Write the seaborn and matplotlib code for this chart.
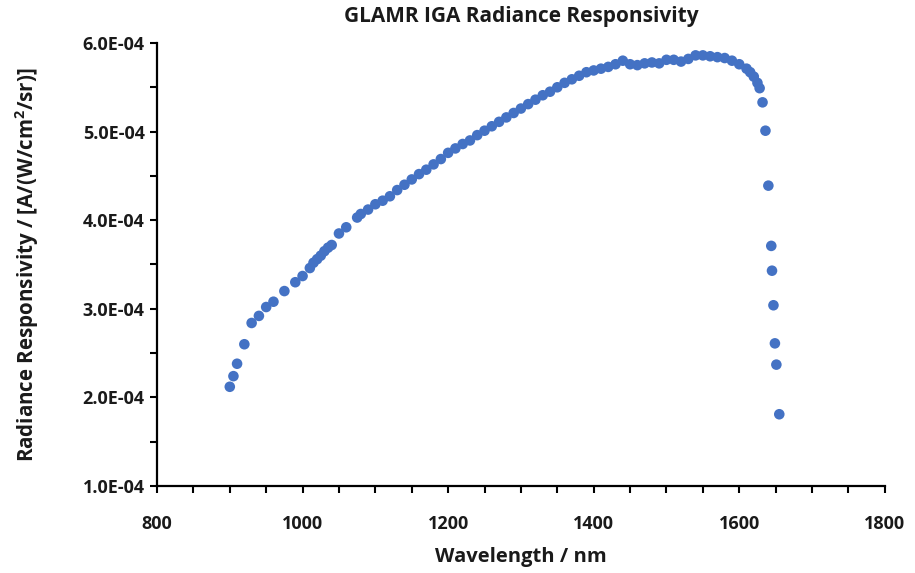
import matplotlib
matplotlib.use("Agg")
import matplotlib.pyplot as plt
import seaborn as sns
import pandas as pd
from matplotlib.ticker import MultipleLocator, FuncFormatter

# Data
wavelength_nm = [
    900, 905, 910, 920, 930, 940, 950, 960, 975, 990,
    1000, 1010, 1015, 1020, 1025, 1030, 1035, 1040, 1050, 1060,
    1075, 1080, 1090, 1100, 1110, 1120, 1130, 1140, 1150, 1160,
    1170, 1180, 1190, 1200, 1210, 1220, 1230, 1240, 1250, 1260,
    1270, 1280, 1290, 1300, 1310, 1320, 1330, 1340, 1350, 1360,
    1370, 1380, 1390, 1400, 1410, 1420, 1430, 1440, 1450, 1460,
    1470, 1480, 1490, 1500, 1510, 1520, 1530, 1540, 1550, 1560,
    1570, 1580, 1590, 1600, 1610, 1615, 1620, 1625, 1628, 1632,
    1636, 1640, 1644, 1645, 1647, 1649, 1651, 1655,
]
responsivity_e4 = [
    2.12, 2.24, 2.38, 2.60, 2.84, 2.92, 3.02, 3.08, 3.20, 3.30,
    3.37, 3.46, 3.52, 3.56, 3.60, 3.65, 3.69, 3.72, 3.85, 3.92,
    4.03, 4.07, 4.12, 4.18, 4.22, 4.27, 4.34, 4.40, 4.46, 4.52,
    4.57, 4.63, 4.69, 4.76, 4.81, 4.86, 4.90, 4.96, 5.01, 5.06,
    5.11, 5.16, 5.21, 5.26, 5.31, 5.36, 5.41, 5.45, 5.50, 5.55,
    5.59, 5.63, 5.67, 5.69, 5.71, 5.73, 5.76, 5.80, 5.76, 5.75,
    5.77, 5.78, 5.77, 5.81, 5.81, 5.79, 5.82, 5.86, 5.86, 5.85,
    5.84, 5.83, 5.80, 5.76, 5.71, 5.67, 5.62, 5.55, 5.49, 5.33,
    5.01, 4.39, 3.71, 3.43, 3.04, 2.61, 2.37, 1.81,
]

title = "GLAMR IGA Radiance Responsivity"
xlabel = "Wavelength / nm"
ylabel = "Radiance Responsivity / [A/(W/cm$^2$/sr)]"

df = pd.DataFrame({
    "wavelength": wavelength_nm,
    "responsivity": [v * 1e-4 for v in responsivity_e4],
})

sns.set_theme(style="white")
plt.rcParams["font.family"] = ["Open Sans", "DejaVu Sans"]
plt.rcParams["mathtext.fontset"] = "custom"
plt.rcParams["mathtext.rm"] = "Open Sans:bold"
plt.rcParams["mathtext.it"] = "Open Sans:bold"
plt.rcParams["mathtext.bf"] = "Open Sans:bold"

TXT = "#1a1a1a"

fig = plt.figure(figsize=(9.15, 5.73), dpi=100)
ax = fig.add_axes([0.1716, 0.1518, 0.7954, 0.7732])

sns.scatterplot(data=df, x="wavelength", y="responsivity", ax=ax,
                color="#4472C4", s=58, edgecolor="none", linewidth=0)

ax.set_xlim(800, 1800)
ax.set_ylim(1e-4, 6e-4)
ax.xaxis.set_major_locator(MultipleLocator(200))
ax.xaxis.set_minor_locator(MultipleLocator(50))
ax.yaxis.set_major_locator(MultipleLocator(1e-4))
ax.yaxis.set_minor_locator(MultipleLocator(0.5e-4))
ax.yaxis.set_major_formatter(FuncFormatter(lambda v, p: f"{v:.1E}"))

for side in ["top", "right"]:
    ax.spines[side].set_visible(False)
for side in ["left", "bottom"]:
    ax.spines[side].set_color("black")
    ax.spines[side].set_linewidth(1.6)

ax.tick_params(axis="both", which="both", direction="out", color="black",
               width=1.5, length=5, left=True, bottom=True)
ax.tick_params(axis="x", which="major", labelsize=13, pad=16)
ax.tick_params(axis="y", which="major", labelsize=13, pad=4)
for lab in ax.get_xticklabels() + ax.get_yticklabels():
    lab.set_fontweight("bold")
    lab.set_color(TXT)

ax.set_title(title, fontsize=15, fontweight="bold", color=TXT, pad=15)
ax.set_xlabel(xlabel, fontsize=14.5, fontweight="bold", color=TXT, labelpad=10)
ax.set_ylabel(ylabel, fontsize=14.8, fontweight="bold", color=TXT, labelpad=30)

fig.savefig("out.png", dpi=100)
